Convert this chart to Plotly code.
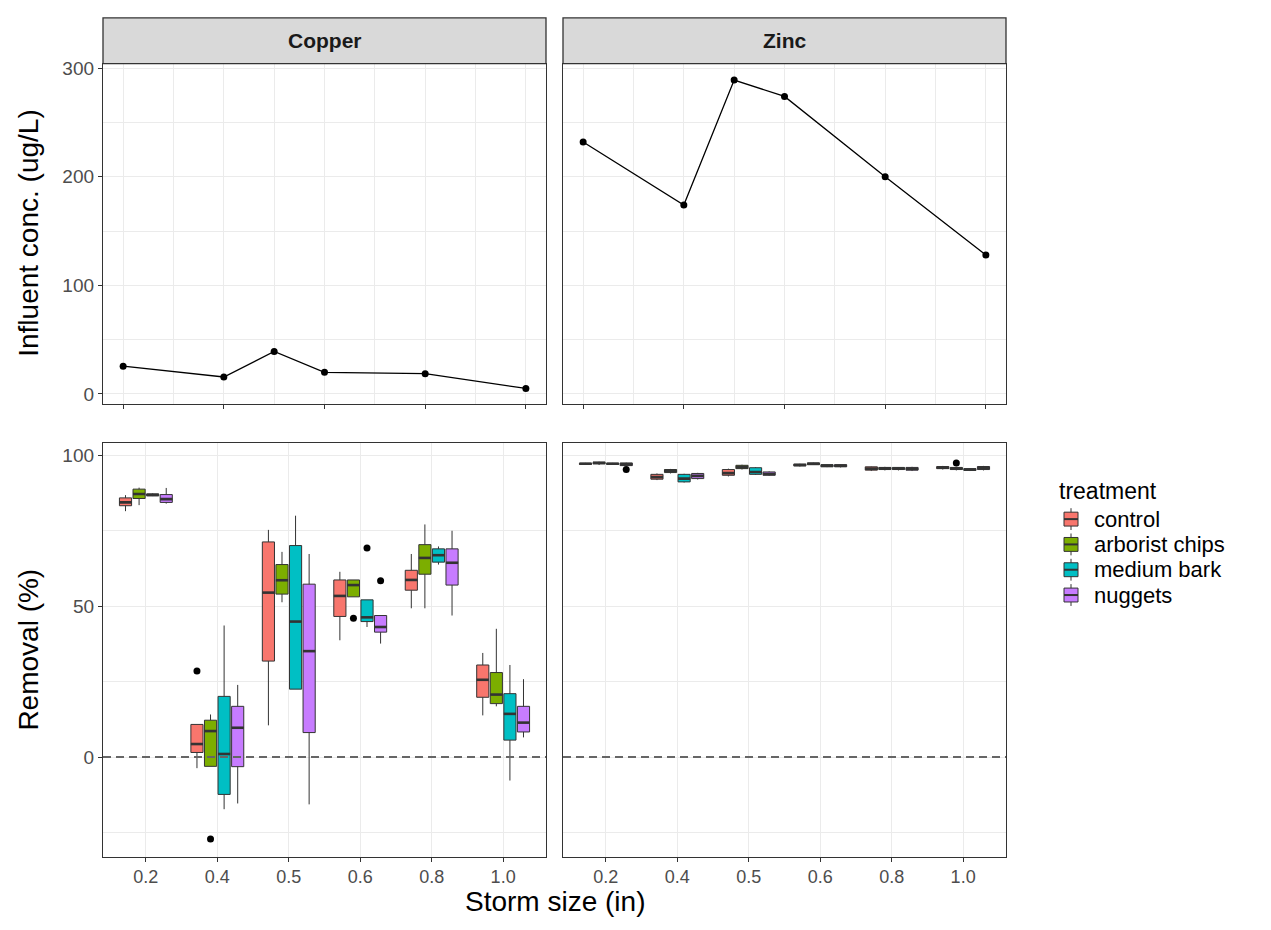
import plotly.graph_objects as go

# ---------------- data ----------------
storm_labels = ["0.2", "0.4", "0.5", "0.6", "0.8", "1.0"]
storm_sizes = [0.2, 0.4, 0.5, 0.6, 0.8, 1.0]
treatments = ["control", "arborist chips", "medium bark", "nuggets"]
colors = ["#F8766D", "#7CAE00", "#00BFC4", "#C77CFF"]

# influent concentration (ug/L)
cu_influent = [25.6, 15.6, 39.1, 19.9, 18.7, 5.1]
zn_influent = [232, 174, 289, 274, 200, 128]

# removal (%) box stats per storm size: (lower whisker, q1, median, q3, upper whisker)
cu_control = [(81.5, 83.3, 84.4, 85.9, 86.8), (-3.7, 1.5, 4.3, 10.8, 10.8), (10.5, 31.8, 54.5, 71.3, 75.3),
              (38.7, 46.6, 53.4, 58.7, 61.4), (49.3, 55.3, 58.7, 61.9, 67.3), (13.8, 19.8, 25.6, 30.5, 34.5)]
cu_arborist = [(83.5, 85.7, 87.2, 88.8, 89.3), (-3.1, -3.1, 8.6, 12.2, 14.1), (51.3, 54.0, 58.6, 63.8, 68.0),
               (53.1, 53.1, 57.0, 58.7, 58.7), (49.3, 60.6, 66.0, 70.4, 77.1), (16.8, 17.7, 20.7, 28.0, 42.5)]
cu_bark = [(86.5, 86.6, 86.9, 87.2, 87.4), (-17.3, -12.4, 1.0, 20.1, 43.6), (22.5, 22.5, 44.9, 70.1, 80.0),
           (43.1, 44.9, 46.3, 52.1, 52.1), (63.8, 64.6, 66.9, 69.0, 69.8), (-7.8, 5.6, 14.3, 21.0, 30.5)]
cu_nuggets = [(84.0, 84.4, 85.5, 87.0, 89.2), (-15.4, -3.2, 9.7, 16.8, 23.9), (-15.7, 8.1, 35.1, 57.3, 67.3),
              (37.6, 41.4, 43.1, 46.9, 46.9), (46.9, 57.0, 64.4, 69.0, 75.0), (6.5, 8.3, 11.4, 16.8, 25.8)]

zn_control = [(96.9, 97.0, 97.2, 97.4, 97.5), (91.8, 92.1, 92.8, 93.7, 94.0), (93.0, 93.4, 94.1, 95.3, 95.6),
              (96.3, 96.5, 96.8, 97.1, 97.2), (94.8, 95.1, 95.6, 96.2, 96.3), (95.3, 95.6, 95.9, 96.3, 96.5)]
zn_arborist = [(96.8, 97.2, 97.5, 97.7, 97.9), (94.0, 94.3, 94.9, 95.3, 95.5), (95.3, 95.6, 96.1, 96.7, 96.9),
               (96.8, 96.9, 97.2, 97.5, 97.6), (95.0, 95.3, 95.7, 96.0, 96.2), (95.0, 95.3, 95.6, 96.0, 96.2)]
zn_bark = [(96.9, 97.0, 97.2, 97.4, 97.5), (91.0, 91.2, 92.3, 93.7, 93.9), (93.5, 93.7, 94.5, 95.9, 96.1),
           (96.1, 96.2, 96.6, 96.9, 97.0), (95.0, 95.3, 95.6, 96.0, 96.1), (94.8, 95.0, 95.3, 95.6, 95.8)]
zn_nuggets = [(96.4, 96.6, 97.0, 97.5, 97.6), (92.0, 92.3, 93.2, 94.0, 94.2), (93.2, 93.4, 93.8, 94.5, 94.7),
              (96.0, 96.2, 96.6, 96.9, 97.0), (94.8, 95.1, 95.5, 96.0, 96.2), (95.0, 95.3, 95.8, 96.3, 96.5)]

# outliers: (treatment index, storm-size index, value)
cu_outliers = [(0, 1, 28.5), (1, 1, -27.2), (1, 3, 46.0), (2, 3, 69.3), (3, 3, 58.4)]
zn_outliers = [(3, 0, 95.3), (1, 5, 97.5)]

# ---------------- layout helpers ----------------
W, H = 1271, 930
FONT = "Liberation Sans, Arial, sans-serif"
TICK_COL = "#4D4D4D"
BORDER = "#333333"
GRID = "#EBEBEB"

def fx(px):
    return px / W

def fy(py):
    return 1 - py / H

LEFT = [fx(103), fx(546)]
RIGHT = [fx(563), fx(1006)]
TOP = [fy(401), fy(58)]
BOTTOM = [fy(857), fy(440)]

DODGE = 0.19
BOXW = 0.17

fig = go.Figure()

# top row: influent concentration lines
for xa, ya, vals in [("x", "y", cu_influent), ("x2", "y2", zn_influent)]:
    fig.add_trace(go.Scatter(x=storm_sizes, y=vals, mode="lines+markers", xaxis=xa, yaxis=ya,
                             line=dict(color="black", width=1.3), marker=dict(color="black", size=7),
                             showlegend=False, hoverinfo="x+y"))

# bottom row: boxplots
groups = [("x3", "y3", [cu_control, cu_arborist, cu_bark, cu_nuggets], cu_outliers),
          ("x4", "y4", [zn_control, zn_arborist, zn_bark, zn_nuggets], zn_outliers)]
for xa, ya, sets, outs in groups:
    for k, (name, col, stats) in enumerate(zip(treatments, colors, sets)):
        pos = [i + 1 + (k - 1.5) * DODGE for i in range(len(storm_labels))]
        fig.add_trace(go.Box(
            x=pos, lowerfence=[s[0] for s in stats], q1=[s[1] for s in stats],
            median=[s[2] for s in stats], q3=[s[3] for s in stats], upperfence=[s[4] for s in stats],
            width=BOXW, whiskerwidth=0, boxpoints=False, fillcolor=col,
            line=dict(color=BORDER, width=1), name=name, showlegend=False,
            xaxis=xa, yaxis=ya))
        # bold median line (ggplot style)
        mx, my = [], []
        for p, s in zip(pos, stats):
            mx += [p - BOXW / 2, p + BOXW / 2, None]
            my += [s[2], s[2], None]
        fig.add_trace(go.Scatter(x=mx, y=my, mode="lines", line=dict(color=BORDER, width=2.6),
                                 showlegend=False, hoverinfo="skip", xaxis=xa, yaxis=ya))
    ox = [j + 1 + (k - 1.5) * DODGE for k, j, v in outs]
    oy = [v for k, j, v in outs]
    fig.add_trace(go.Scatter(x=ox, y=oy, mode="markers", marker=dict(color="black", size=7),
                             showlegend=False, xaxis=xa, yaxis=ya))

common_axis = dict(showline=True, mirror=True, linecolor=BORDER, linewidth=1.3,
                   showgrid=True, gridcolor=GRID, gridwidth=1.2, zeroline=False,
                   ticks="outside", ticklen=4, tickwidth=1.2, tickcolor=BORDER,
                   tickfont=dict(family=FONT, size=19, color=TICK_COL))

top_x = dict(common_axis, range=[0.16, 1.04], tickmode="array", tickvals=[0.2, 0.4, 0.6, 0.8, 1.0],
             showticklabels=False,
             minor=dict(tickmode="array", tickvals=[0.3, 0.5, 0.7, 0.9], showgrid=True,
                        gridcolor=GRID, gridwidth=0.7, ticks=""))
top_y = dict(common_axis, range=[-9.25, 304.25], tickmode="array", tickvals=[0, 100, 200, 300],
             minor=dict(tickmode="array", tickvals=[50, 150, 250], showgrid=True,
                        gridcolor=GRID, gridwidth=0.7, ticks=""))
bot_x = dict(common_axis, range=[0.4, 6.6], tickmode="array", tickvals=list(range(1, len(storm_labels) + 1)),
             ticktext=storm_labels, tickfont=dict(family=FONT, size=18, color=TICK_COL))
bot_y = dict(common_axis, range=[-33.0, 104.2], tickmode="array", tickvals=[0, 50, 100],
             minor=dict(tickmode="array", tickvals=[-25, 25, 75], showgrid=True,
                        gridcolor=GRID, gridwidth=0.7, ticks=""))

fig.update_layout(
    width=W, height=H, margin=dict(l=0, r=0, t=0, b=0),
    paper_bgcolor="white", plot_bgcolor="white",
    font=dict(family=FONT, color="black"),
    xaxis=dict(top_x, domain=LEFT, anchor="y"),
    xaxis2=dict(top_x, domain=RIGHT, anchor="y2"),
    yaxis=dict(top_y, domain=TOP, anchor="x"),
    yaxis2=dict(top_y, domain=TOP, anchor="x2", showticklabels=False, ticks=""),
    xaxis3=dict(bot_x, domain=LEFT, anchor="y3"),
    xaxis4=dict(bot_x, domain=RIGHT, anchor="y4"),
    yaxis3=dict(bot_y, domain=BOTTOM, anchor="x3"),
    yaxis4=dict(bot_y, domain=BOTTOM, anchor="x4", showticklabels=False, ticks=""),
    showlegend=False,
)

# dashed zero reference lines (drawn over the boxes, like geom_hline)
for xr, yr in [("x3", "y3"), ("x4", "y4")]:
    fig.add_shape(type="line", xref=f"{xr} domain", yref=yr, x0=0, x1=1, y0=0, y1=0,
                  line=dict(color="#666666", width=1.8, dash="8px,5px"), layer="above")

# facet strips
for dom, label in [(LEFT, "Copper"), (RIGHT, "Zinc")]:
    fig.add_shape(type="rect", xref="paper", yref="paper", x0=dom[0], x1=dom[1], y0=fy(58), y1=fy(12),
                  fillcolor="#D9D9D9", line=dict(color=BORDER, width=1.3))
    fig.add_annotation(text=f"<b>{label}</b>", xref="paper", yref="paper", x=(dom[0] + dom[1]) / 2,
                       y=(fy(58) + fy(12)) / 2, xanchor="center", yanchor="middle", showarrow=False,
                       font=dict(family=FONT, size=21, color="#1A1A1A"))

# axis titles
fig.add_annotation(text="Influent conc. (ug/L)", xref="paper", yref="paper", x=fx(29), y=(TOP[0] + TOP[1]) / 2,
                   xanchor="center", yanchor="middle", textangle=-90, showarrow=False,
                   font=dict(family=FONT, size=28, color="black"))
fig.add_annotation(text="Removal (%)", xref="paper", yref="paper", x=fx(29), y=(BOTTOM[0] + BOTTOM[1]) / 2,
                   xanchor="center", yanchor="middle", textangle=-90, showarrow=False,
                   font=dict(family=FONT, size=28, color="black"))
fig.add_annotation(text="Storm size (in)", xref="paper", yref="paper", x=(LEFT[0] + RIGHT[1]) / 2, y=fy(902),
                   xanchor="center", yanchor="middle", showarrow=False,
                   font=dict(family=FONT, size=28, color="black"))

# legend (ggplot-style, drawn with shapes and annotations)
LEG_X, LEG_TITLE_Y, LEG_ROW0, LEG_STEP = 1057, 489, 517, 25.5
fig.add_annotation(text="treatment", xref="paper", yref="paper", x=fx(LEG_X), y=fy(LEG_TITLE_Y),
                   xanchor="left", yanchor="middle", showarrow=False,
                   font=dict(family=FONT, size=23, color="black"))
for k, (name, col) in enumerate(zip(treatments, colors)):
    cy = LEG_ROW0 + k * LEG_STEP
    kx0, kx1 = 1064, 1078
    # whisker
    fig.add_shape(type="line", xref="paper", yref="paper", x0=fx((kx0 + kx1) / 2), x1=fx((kx0 + kx1) / 2),
                  y0=fy(cy - 11), y1=fy(cy + 11), line=dict(color=BORDER, width=1))
    # box
    fig.add_shape(type="rect", xref="paper", yref="paper", x0=fx(kx0), x1=fx(kx1), y0=fy(cy - 7), y1=fy(cy + 7),
                  fillcolor=col, line=dict(color=BORDER, width=1))
    # median
    fig.add_shape(type="line", xref="paper", yref="paper", x0=fx(kx0), x1=fx(kx1), y0=fy(cy), y1=fy(cy),
                  line=dict(color=BORDER, width=2))
    fig.add_annotation(text=name, xref="paper", yref="paper", x=fx(1092), y=fy(cy),
                       xanchor="left", yanchor="middle", showarrow=False,
                       font=dict(family=FONT, size=22, color="black"))

fig.write_html("out.html")
